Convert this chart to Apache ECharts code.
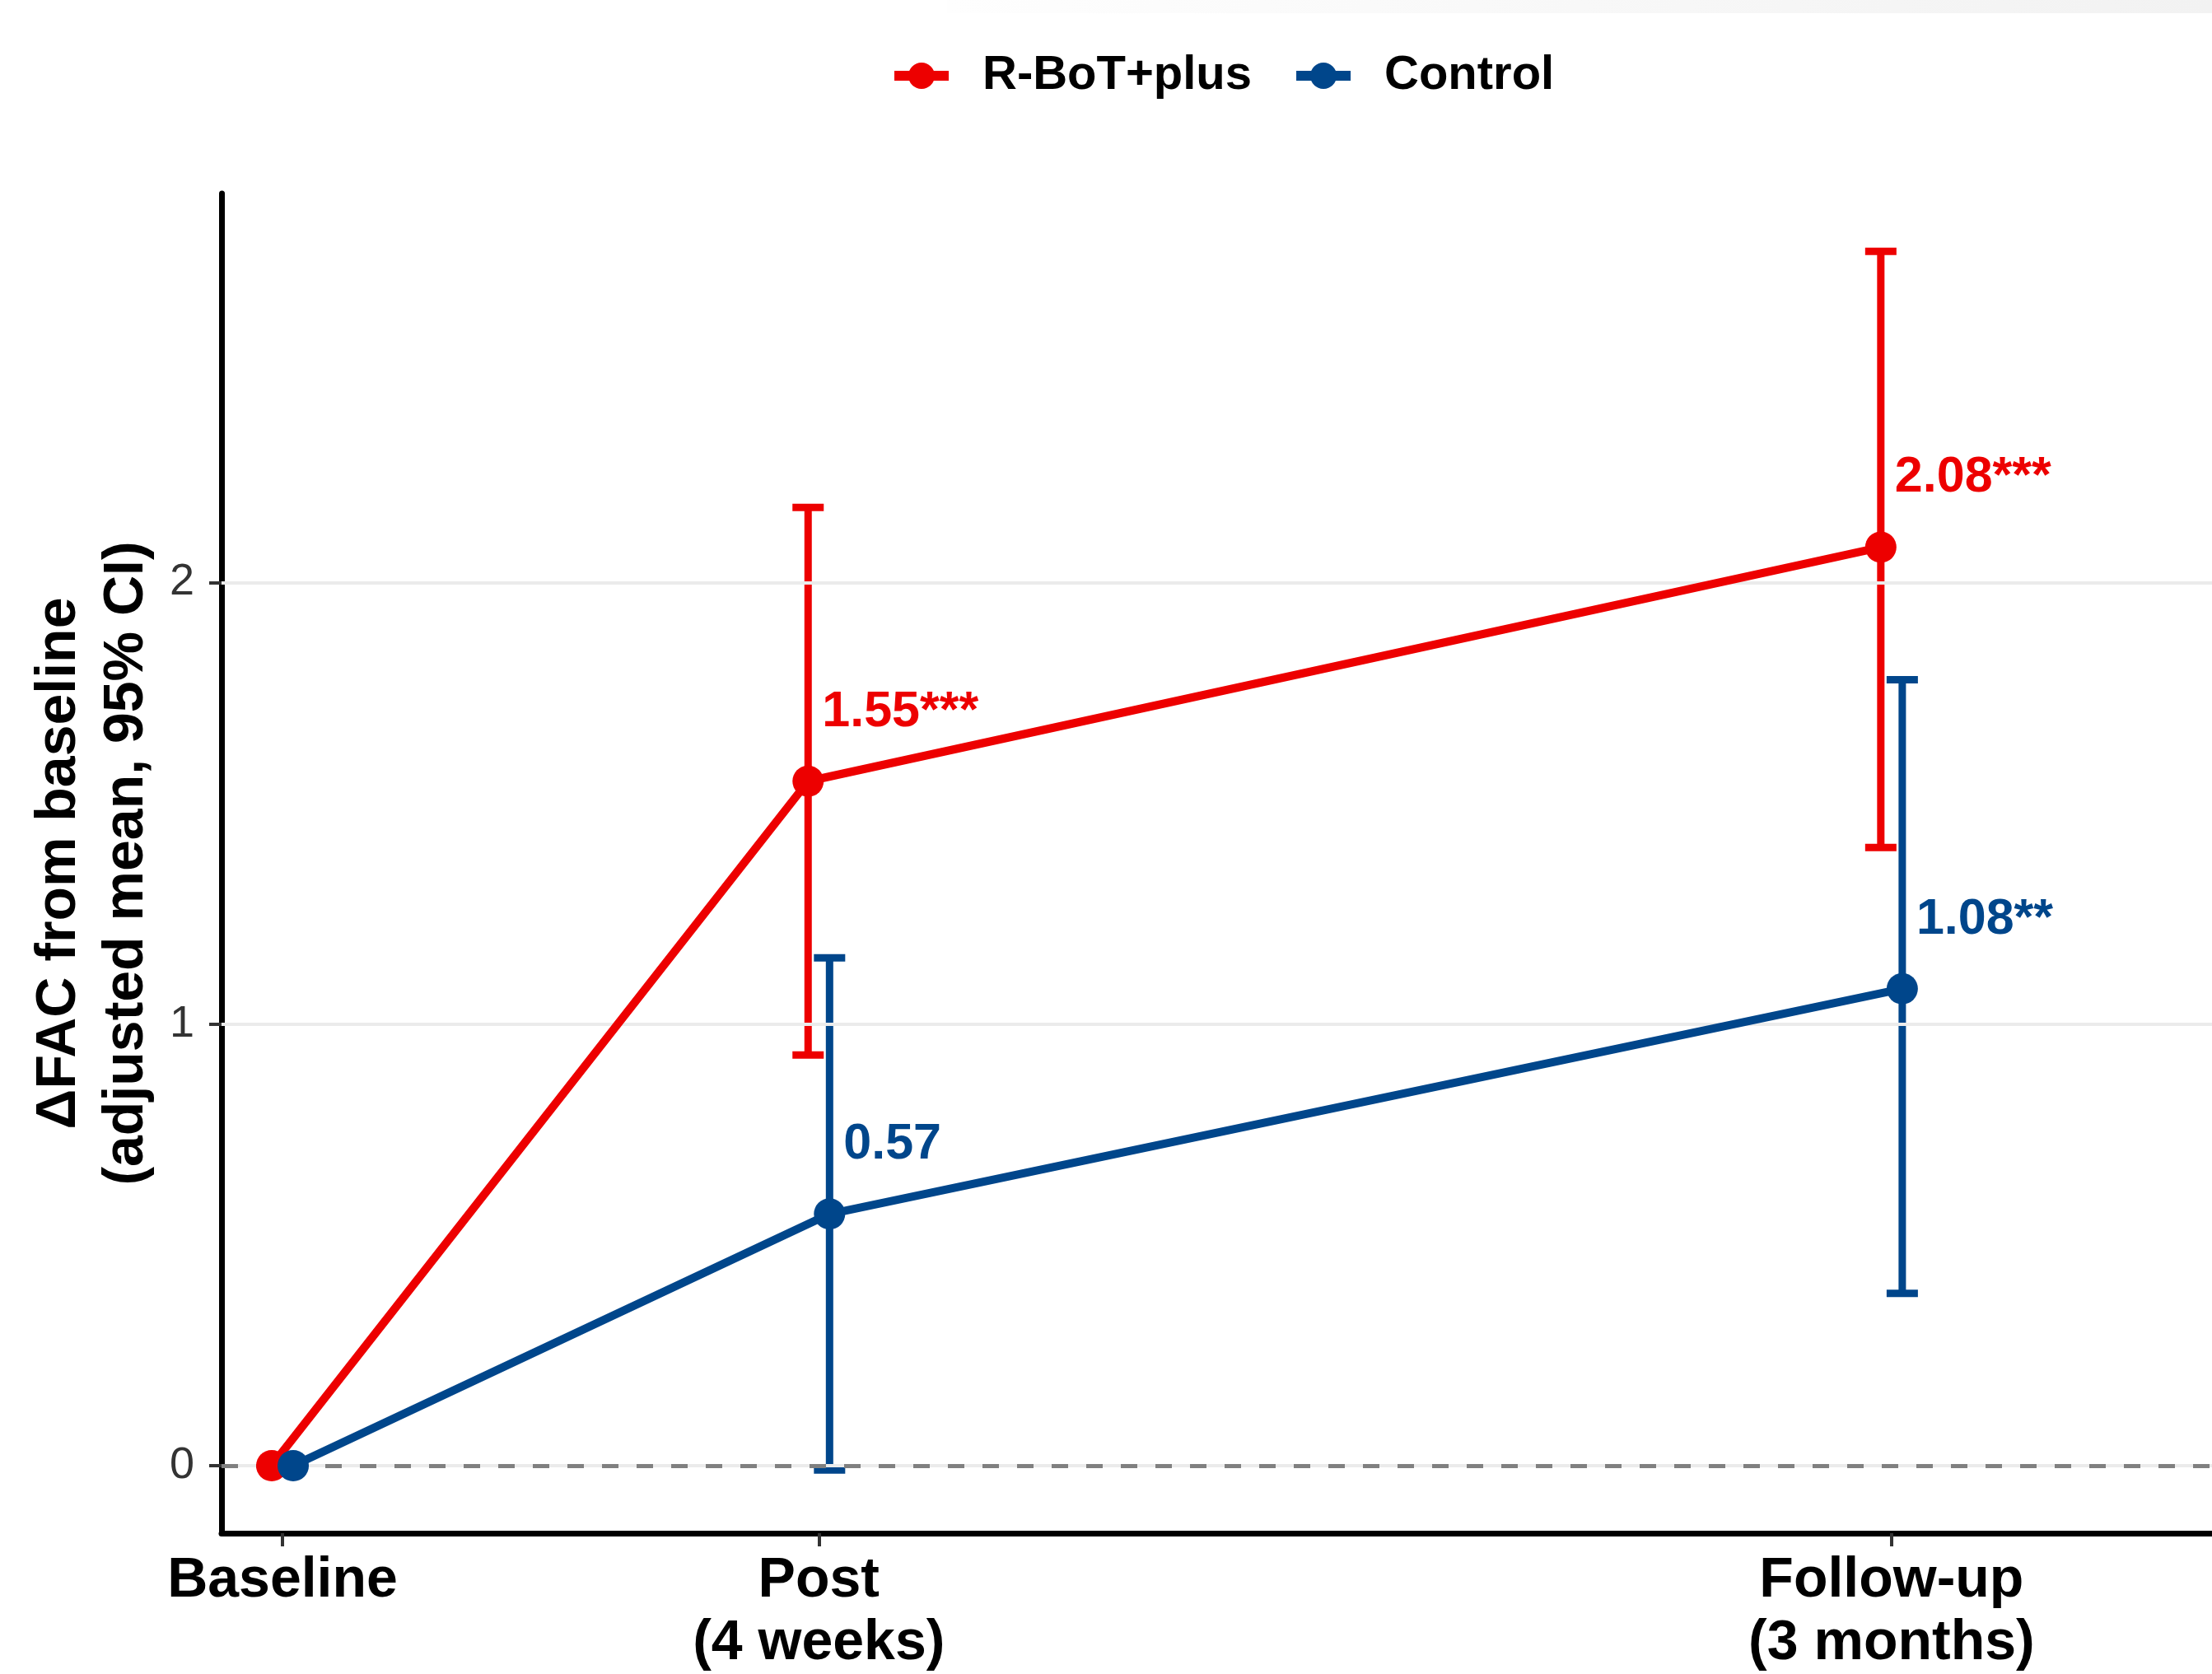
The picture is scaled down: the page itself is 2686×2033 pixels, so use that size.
<!DOCTYPE html>
<html>
<head>
<meta charset="utf-8">
<script src="https://cdn.jsdelivr.net/npm/echarts@6/dist/echarts.min.js"></script>
<style>
html,body{margin:0;padding:0;background:#fff;}
#chart{width:2686px;height:2033px;}
</style>
</head>
<body>
<div id="chart"></div>
<script>
// ---- data ----
const seriesNames = ['R-BoT+plus', 'Control'];
const weeks = [0, 4, 12];
const tickLabels = ['Baseline', 'Post\n(4 weeks)', 'Follow-up\n(3 months)'];
const rbotMean = [0, 1.55, 2.08];
const rbotLow = [null, 0.93, 1.40];
const rbotHigh = [null, 2.17, 2.75];
const rbotLabels = ['', '1.55***', '2.08***'];
const ctrlMean = [0, 0.57, 1.08];
const ctrlLow = [null, -0.01, 0.39];
const ctrlHigh = [null, 1.15, 1.78];
const ctrlLabels = ['', '0.57', '1.08**'];
const yTicks = [0, 1, 2];

// ---- styling ----
const RED = '#ED0000';
const BLUE = '#00468B';
const FONT = '"Liberation Sans", Arial, sans-serif';
const DODGE = 0.08;

function pts(mean, shift) {
  return weeks.map((w, i) => [w + shift, mean[i]]);
}
function ciData(low, high, shift) {
  const out = [];
  weeks.forEach((w, i) => {
    if (low[i] !== null && high[i] !== null) out.push([w + shift, low[i], high[i]]);
  });
  return out;
}
function errRender(color) {
  return function (params, api) {
    const x = api.value(0), lo = api.value(1), hi = api.value(2);
    const a = api.coord([x, lo]), b = api.coord([x, hi]);
    const hw = 19;
    const style = { stroke: color, lineWidth: 9, lineCap: 'butt' };
    return {
      type: 'group',
      children: [
        { type: 'line', shape: { x1: a[0], y1: a[1], x2: b[0], y2: b[1] }, style },
        { type: 'line', shape: { x1: a[0] - hw, y1: a[1], x2: a[0] + hw, y2: a[1] }, style },
        { type: 'line', shape: { x1: b[0] - hw, y1: b[1], x2: b[0] + hw, y2: b[1] }, style }
      ]
    };
  };
}
function lineSeries(name, mean, labels, color, shift) {
  return {
    name: name,
    type: 'line',
    data: pts(mean, shift),
    z: 5,
    symbol: 'circle',
    symbolSize: 38,
    lineStyle: { color: color, width: 10 },
    itemStyle: { color: color },
    label: {
      show: true,
      position: 'inside',
      align: 'left',
      verticalAlign: 'middle',
      offset: [17, -84],
      formatter: (p) => labels[p.dataIndex],
      color: color,
      fontFamily: FONT,
      fontWeight: 'bold',
      fontSize: 61
    },
    emphasis: { disabled: true },
    animation: false
  };
}

const chart = echarts.init(document.getElementById('chart'), null, { renderer: 'canvas' });
const option = {
  backgroundColor: '#ffffff',
  animation: false,
  graphic: [{
    type: 'rect',
    shape: { x: 1150, y: 0, width: 1536, height: 16 },
    style: {
      fill: new echarts.graphic.LinearGradient(0, 0, 1, 0, [
        { offset: 0, color: '#fefefe' },
        { offset: 1, color: '#f2f2f2' }
      ])
    },
    silent: true
  }],
  legend: {
    data: seriesNames,
    left: 1075,
    top: 58,
    itemWidth: 66,
    itemHeight: 40,
    itemGap: 48,
    textStyle: {
      fontFamily: FONT,
      fontWeight: 'bold',
      fontSize: 58,
      color: '#000',
      padding: [0, 0, 0, 36]
    },
    lineStyle: { width: 12 }
  },
  grid: { left: 269, top: 235, bottom: 171, right: 0, containLabel: false, outerBoundsMode: 'none' },
  xAxis: {
    type: 'value',
    min: -0.4545,
    max: 14.39,
    axisLine: { show: true, onZero: false, lineStyle: { color: '#000', width: 7 } },
    axisTick: { show: true, customValues: weeks, length: 16, lineStyle: { color: '#333', width: 4 } },
    axisLabel: {
      show: true,
      customValues: weeks,
      formatter: (v) => tickLabels[weeks.indexOf(v)] || '',
      margin: 20,
      color: '#000',
      fontFamily: FONT,
      fontWeight: 'bold',
      fontSize: 68,
      lineHeight: 76,
      align: 'center'
    },
    splitLine: { show: false }
  },
  yAxis: {
    type: 'value',
    min: -0.153,
    max: 2.881,
    name: 'ΔFAC from baseline\n(adjusted mean, 95% CI)',
    nameLocation: 'middle',
    nameRotate: 90,
    nameGap: 65,
    nameTextStyle: {
      fontFamily: FONT,
      fontWeight: 'bold',
      fontSize: 68,
      lineHeight: 82,
      color: '#000',
      align: 'center'
    },
    axisLine: { show: true, onZero: false, lineStyle: { color: '#000', width: 7 } },
    axisTick: { show: true, customValues: yTicks, length: 15, lineStyle: { color: '#333', width: 4 } },
    axisLabel: {
      show: true,
      customValues: yTicks,
      formatter: (v) => String(v),
      margin: 33,
      color: '#333',
      fontFamily: FONT,
      fontSize: 54
    },
    splitLine: { show: false }
  },
  series: [
    {
      name: 'grid-helper',
      type: 'line',
      data: [],
      z: 1,
      silent: true,
      markLine: {
        silent: true,
        symbol: 'none',
        label: { show: false },
        animation: false,
        lineStyle: { color: '#ebebeb', width: 4, type: 'solid' },
        data: yTicks.map((t) => ({ yAxis: t }))
      }
    },
    {
      name: 'zero-line',
      type: 'line',
      data: [],
      z: 2,
      silent: true,
      markLine: {
        silent: true,
        symbol: 'none',
        label: { show: false },
        animation: false,
        lineStyle: { color: '#808080', width: 5, type: [20, 22] },
        data: [{ yAxis: 0 }]
      }
    },
    {
      name: 'rbot-ci',
      type: 'custom',
      z: 3,
      silent: true,
      renderItem: errRender(RED),
      data: ciData(rbotLow, rbotHigh, -DODGE),
      encode: { x: 0, y: [1, 2] }
    },
    {
      name: 'ctrl-ci',
      type: 'custom',
      z: 3,
      silent: true,
      renderItem: errRender(BLUE),
      data: ciData(ctrlLow, ctrlHigh, DODGE),
      encode: { x: 0, y: [1, 2] }
    },
    lineSeries(seriesNames[0], rbotMean, rbotLabels, RED, -DODGE),
    lineSeries(seriesNames[1], ctrlMean, ctrlLabels, BLUE, DODGE)
  ]
};
chart.setOption(option);
</script>
</body>
</html>
